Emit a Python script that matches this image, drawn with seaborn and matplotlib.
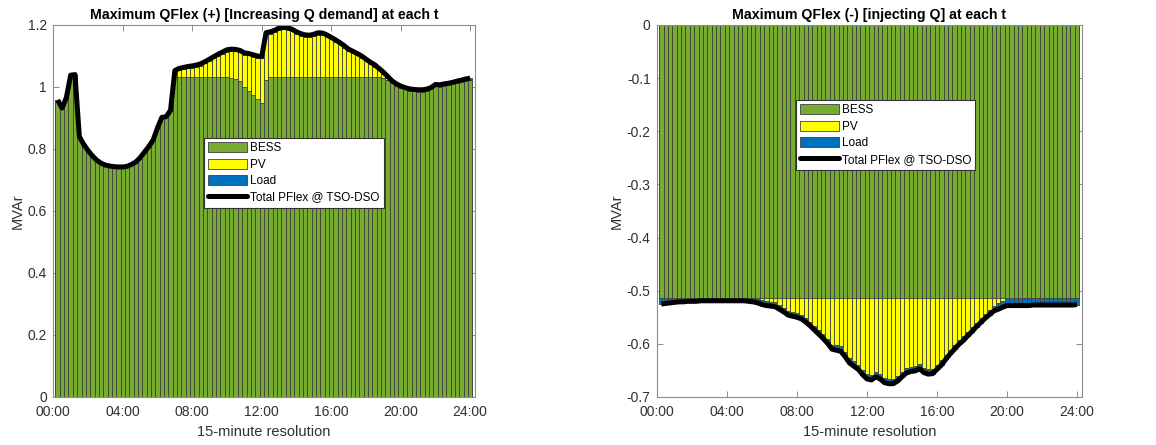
import numpy as np
import matplotlib
matplotlib.use("Agg")
import matplotlib.pyplot as plt
import seaborn as sns
from matplotlib.patches import Patch
from matplotlib.lines import Line2D

# 96 quarter-hour slots (end of each interval, in hours)
slots = np.arange(1, 97) * 0.25
tick_hours = [0, 4, 8, 12, 16, 20, 24]
tick_labels = ["00:00", "04:00", "08:00", "12:00", "16:00", "20:00", "24:00"]
series_names = ["BESS", "PV", "Load", "Total PFlex @ TSO-DSO"]

# Upward flexibility (MVAr) per resource
bess_up = ([0.956, 0.930, 0.963, 1.036, 1.038, 0.838, 0.813, 0.793, 0.776, 0.762,
            0.752, 0.746, 0.743, 0.741, 0.740, 0.740, 0.742, 0.748, 0.756, 0.770,
            0.788, 0.806, 0.827, 0.866, 0.900, 0.902, 0.923]
           + [1.031] * 13
           + [1.028, 1.026, 1.018, 1.000, 0.986, 0.975, 0.962, 0.948, 1.022]
           + [1.031] * 26
           + [1.030, 1.022, 1.012]
           + [1.004, 0.997, 0.992, 0.988, 0.986, 0.985, 0.985, 0.987, 0.992, 1.002,
              1.001, 1.004, 1.006, 1.009, 1.013, 1.016, 1.020, 1.022])
pv_up = ([0.0] * 27
         + [0.016, 0.023, 0.026, 0.029, 0.031, 0.034, 0.038, 0.045, 0.053, 0.061,
            0.069, 0.076, 0.083]
         + [0.088, 0.089, 0.094, 0.104, 0.116, 0.123, 0.132, 0.144, 0.147]
         + [0.141, 0.146, 0.153, 0.155, 0.154, 0.149, 0.141, 0.135, 0.131, 0.130,
            0.133, 0.138, 0.137, 0.131, 0.123, 0.115, 0.106, 0.096, 0.085, 0.078,
            0.071, 0.063, 0.053, 0.043, 0.035, 0.023]
         + [0.012, 0.006, 0.002]
         + [0.0] * 18)
load_up = [0.002] * 27 + [0.006] * 69

# Downward flexibility (MVAr) per resource
bess_down = [-0.5135] * 96
pv_down = ([0.0] * 22
           + [-0.0015, -0.0045, -0.0065, -0.0075, -0.0085, -0.0135, -0.0185, -0.0245,
              -0.0265, -0.0285, -0.0315, -0.0375, -0.0445, -0.0525, -0.0605, -0.0685,
              -0.0775, -0.0885]
           + [-0.0895, -0.0915, -0.1015, -0.1135, -0.1195, -0.1255, -0.1355, -0.1435,
              -0.1455, -0.1395, -0.1435, -0.1505, -0.1525, -0.1525, -0.1475, -0.1395,
              -0.1325, -0.1295, -0.1285, -0.1245, -0.1315, -0.1345, -0.1335, -0.1255,
              -0.1175]
           + [-0.1075, -0.0975, -0.0885, -0.0795, -0.0725, -0.0635, -0.0555, -0.0465,
              -0.0385, -0.0305]
           + [-0.0225, -0.0145, -0.0105, -0.0055]
           + [0.0] * 17)
load_down = ([-0.0115, -0.0105, -0.0095, -0.0085, -0.0075, -0.0075, -0.0065, -0.0065,
              -0.0065] + [-0.0055] * 11 + [-0.0065, -0.0075]
             + [-0.008] * 18 + [-0.009] * 25 + [-0.008] * 10
             + [-0.009, -0.010, -0.011, -0.012]
             + [-0.0145] * 6 + [-0.0135] * 10 + [-0.0125])

COL_BESS = "#77AC30"
COL_PV = "#FFFF00"
COL_LOAD = "#0072BD"
EDGE = "#404040"
SPINE = "#8c8c8c"
TEXT = "#303030"

sns.set_theme(style="ticks")
plt.rcParams["font.family"] = ["Liberation Sans", "DejaVu Sans"]

fig = plt.figure(figsize=(11.56, 4.45), dpi=100)
ax_up = fig.add_axes([0.0461, 0.1079, 0.3648, 0.836])
ax_dn = fig.add_axes([0.5683, 0.1079, 0.3676, 0.836])


def draw_panel(ax, bess, pv, load, title, ylim, yticks, yticklabels, anchor):
    bess = np.asarray(bess)
    pv = np.asarray(pv)
    load = np.asarray(load)
    total = bess + pv + load
    # stacked bars drawn as cumulative layers, deepest layer first
    for heights, col in [(total, COL_LOAD), (bess + pv, COL_PV), (bess, COL_BESS)]:
        sns.barplot(x=slots, y=heights, native_scale=True, orient="x", width=1.0,
                    color=col, saturation=1, edgecolor=EDGE, linewidth=0.6,
                    errorbar=None, ax=ax)
    sns.lineplot(x=slots, y=total, color="black", linewidth=3.6, ax=ax,
                 solid_joinstyle="round", solid_capstyle="butt")

    ax.set_xlim(0, 24.28)
    ax.set_ylim(*ylim)
    ax.set_xticks(tick_hours)
    ax.set_xticklabels(tick_labels)
    ax.set_yticks(yticks)
    ax.set_yticklabels(yticklabels)
    ax.tick_params(direction="in", length=4, width=0.7, colors=SPINE,
                   labelcolor=TEXT, labelsize=10, top=True, right=True)
    ax.tick_params(axis="x", pad=6)
    ax.tick_params(axis="y", pad=4.5)
    for sp in ax.spines.values():
        sp.set_visible(True)
        sp.set_color(SPINE)
        sp.set_linewidth(0.8)
    ax.set_title(title, fontsize=10.2, fontweight="bold", color="black", pad=4)
    ax.set_xlabel("15-minute resolution", fontsize=10.5, color=TEXT, labelpad=4)
    ax.set_ylabel("MVAr", fontsize=10.5, color=TEXT, labelpad=2)

    handles = [Patch(facecolor=COL_BESS, edgecolor=EDGE, linewidth=0.6),
               Patch(facecolor=COL_PV, edgecolor=EDGE, linewidth=0.6),
               Patch(facecolor=COL_LOAD, edgecolor=EDGE, linewidth=0.6),
               Line2D([0], [0], color="black", linewidth=3.6)]
    leg = ax.legend(handles, series_names, loc="upper left", bbox_to_anchor=anchor,
                    fontsize=8.5, frameon=True, fancybox=False, framealpha=1,
                    edgecolor="#333333", borderpad=0.35, handlelength=3.3,
                    handleheight=0.95, handletextpad=0.25, labelspacing=0.36,
                    borderaxespad=0.0)
    leg.get_frame().set_linewidth(0.8)
    for txt in leg.get_texts():
        txt.set_color("black")


draw_panel(ax_up, bess_up, pv_up, load_up,
           "Maximum QFlex (+) [Increasing Q demand] at each t",
           (0, 1.2), [0, 0.2, 0.4, 0.6, 0.8, 1.0, 1.2],
           ["0", "0.2", "0.4", "0.6", "0.8", "1", "1.2"], (0.358, 0.696))
draw_panel(ax_dn, bess_down, pv_down, load_down,
           "Maximum QFlex (-) [injecting Q] at each t",
           (-0.7, 0), [-0.7, -0.6, -0.5, -0.4, -0.3, -0.2, -0.1, 0],
           ["-0.7", "-0.6", "-0.5", "-0.4", "-0.3", "-0.2", "-0.1", "0"], (0.327, 0.798))

fig.savefig("out.png", dpi=100)
